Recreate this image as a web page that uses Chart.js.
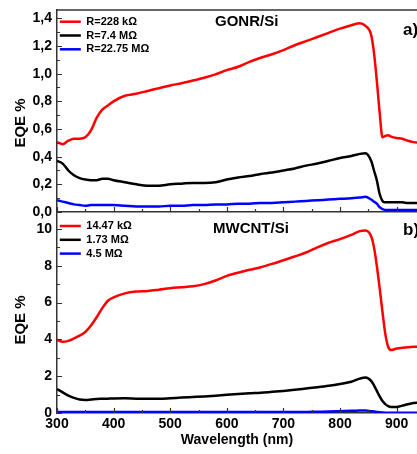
<!DOCTYPE html>
<html>
<head>
<meta charset="utf-8">
<script src="https://cdn.jsdelivr.net/npm/chart.js@4.4.0/dist/chart.umd.min.js"></script>
<style>
  html, body { margin: 0; padding: 0; background: #fff; }
  #wrap { position: relative; width: 417px; height: 454px; overflow: hidden; background: #fff; }
  canvas { position: absolute; left: 0; }
  #chartA { top: 0; z-index: 2; }
  #chartB { top: 212px; z-index: 1; }
</style>
</head>
<body>
<div id="wrap">
  <canvas id="chartA" width="417" height="224"></canvas>
  <canvas id="chartB" width="417" height="242"></canvas>
</div>
<script>
// 波长 (nm)，下降沿附近取点更密
const wavelength = [300, 310, 320, 330, 340, 350, 360, 370, 380, 390, 400, 420, 440, 460, 480, 500, 520, 540, 560, 580,
    600, 620, 640, 660, 680, 700, 720, 740, 760, 780, 800, 820, 835, 845, 855, 860, 865, 870, 875, 880,
    885, 890, 900, 910, 920, 930, 940];

// a) GONR/Si
const gonrLabels = ['R=228 kΩ', 'R=7.4 MΩ', 'R=22.75 MΩ'];
const gonr228k = [0.505, 0.49, 0.515, 0.53, 0.53, 0.54, 0.59, 0.68, 0.74, 0.77, 0.80, 0.84, 0.855, 0.875, 0.895, 0.915, 0.93, 0.95, 0.97, 0.995,
    1.025, 1.05, 1.085, 1.115, 1.14, 1.17, 1.205, 1.235, 1.265, 1.295, 1.325, 1.35, 1.365, 1.345, 1.28, 1.15, 0.95, 0.72, 0.54, 0.55,
    0.555, 0.545, 0.535, 0.53, 0.515, 0.505, 0.50];
const gonr7M = [0.37, 0.35, 0.30, 0.265, 0.245, 0.235, 0.23, 0.23, 0.24, 0.24, 0.23, 0.215, 0.20, 0.19, 0.19, 0.20, 0.205, 0.21, 0.21, 0.215,
    0.235, 0.25, 0.26, 0.275, 0.285, 0.30, 0.315, 0.335, 0.35, 0.37, 0.39, 0.405, 0.42, 0.425, 0.37, 0.30, 0.23, 0.13, 0.08, 0.07,
    0.07, 0.07, 0.07, 0.07, 0.065, 0.065, 0.065];
const gonr22M = [0.085, 0.075, 0.065, 0.055, 0.05, 0.045, 0.05, 0.05, 0.05, 0.05, 0.05, 0.045, 0.04, 0.04, 0.04, 0.045, 0.045, 0.05, 0.05, 0.055,
    0.055, 0.06, 0.06, 0.065, 0.065, 0.07, 0.075, 0.08, 0.085, 0.09, 0.095, 0.10, 0.105, 0.11, 0.09, 0.075, 0.06, 0.035, 0.02, 0.015,
    0.015, 0.015, 0.015, 0.015, 0.015, 0.015, 0.015];

// b) MWCNT/Si
const mwcntLabels = ['14.47 kΩ', '1.73 MΩ', '4.5 MΩ'];
const mwcnt14k = [3.97, 3.87, 3.92, 4.05, 4.2, 4.4, 4.75, 5.2, 5.7, 6.1, 6.28, 6.5, 6.6, 6.63, 6.7, 6.78, 6.83, 6.88, 7.0, 7.2,
    7.45, 7.62, 7.78, 7.92, 8.1, 8.3, 8.5, 8.72, 9.0, 9.25, 9.45, 9.68, 9.88, 9.92, 9.6, 9.0, 8.0, 6.8, 5.5, 4.3,
    3.6, 3.42, 3.5, 3.55, 3.57, 3.6, 3.6];
const mwcnt1M = [1.30, 1.12, 0.95, 0.82, 0.73, 0.71, 0.73, 0.76, 0.77, 0.78, 0.79, 0.80, 0.78, 0.77, 0.77, 0.80, 0.84, 0.87, 0.90, 0.94,
    0.99, 1.03, 1.07, 1.10, 1.15, 1.20, 1.26, 1.33, 1.40, 1.48, 1.58, 1.70, 1.87, 1.93, 1.75, 1.50, 1.20, 0.90, 0.65, 0.48,
    0.38, 0.33, 0.33, 0.40, 0.48, 0.54, 0.56];
const mwcnt4M = [0.05, 0.05, 0.05, 0.05, 0.05, 0.05, 0.05, 0.05, 0.05, 0.05, 0.05, 0.05, 0.05, 0.05, 0.05, 0.05, 0.05, 0.05, 0.05, 0.05,
    0.05, 0.05, 0.05, 0.05, 0.05, 0.05, 0.055, 0.06, 0.07, 0.08, 0.10, 0.12, 0.13, 0.14, 0.10, 0.08, 0.06, 0.04, 0.03, 0.02,
    0.02, 0.02, 0.02, 0.02, 0.02, 0.02, 0.02];

// 刻度
const xTickValues = [300, 400, 500, 600, 700, 800, 900];
const gonrYTicks = [0, 0.2, 0.4, 0.6, 0.8, 1.0, 1.2, 1.4];
const mwcntYTicks = [0, 2, 4, 6, 8, 10];

const FONT = '"Liberation Sans", Arial, sans-serif';
const AXIS = '#333';
const X_MIN = 300, X_MAX = 936;

const series = (values, label, color) => ({
    label: label,
    data: wavelength.map((w, i) => ({ x: w, y: values[i] })),
    borderColor: color,
    backgroundColor: color,
    borderWidth: 2.5,
    pointRadius: 0,
    cubicInterpolationMode: 'monotone',
    fill: false
});

const mids = arr => arr.slice(0, -1).map((v, i) => (v + arr[i + 1]) / 2).concat([arr[arr.length - 1] + (arr[1] - arr[0]) / 2]);

// 向内的主/次刻度 + 顶部边框
function innerTicks(yTicks, drawTop) {
    return {
        id: 'innerTicks',
        afterDatasetsDraw(chart) {
            const { ctx, chartArea: a, scales: { x, y } } = chart;
            ctx.save();
            ctx.strokeStyle = AXIS;
            ctx.lineWidth = 1.2;
            ctx.beginPath();
            const xs = xTickValues.concat(mids(xTickValues));
            xs.forEach((v, i) => {
                if (v < X_MIN || v > X_MAX) return;
                const px = Math.round(x.getPixelForValue(v)) + 0.5;
                const len = i < xTickValues.length ? 5 : 3;
                ctx.moveTo(px, a.bottom);
                ctx.lineTo(px, a.bottom - len);
            });
            const ys = yTicks.concat(mids(yTicks));
            ys.forEach((v, i) => {
                if (v < y.min || v > y.max) return;
                const py = Math.round(y.getPixelForValue(v)) + 0.5;
                const len = i < yTicks.length ? 5 : 3;
                ctx.moveTo(a.left, py);
                ctx.lineTo(a.left + len, py);
            });
            ctx.stroke();
            if (drawTop) {
                ctx.lineWidth = 1.5;
                ctx.beginPath();
                ctx.moveTo(a.left, a.top);
                ctx.lineTo(a.right, a.top);
                ctx.stroke();
            }
            ctx.restore();
        }
    };
}

function panelText(items) {
    return {
        id: 'panelText',
        afterDraw(chart) {
            const ctx = chart.ctx;
            items.forEach(t => {
                ctx.save();
                ctx.font = `bold ${t.size}px ${FONT}`;
                ctx.fillStyle = '#000';
                ctx.textAlign = t.align || 'left';
                ctx.textBaseline = 'middle';
                ctx.translate(t.x, t.y);
                if (t.rotate) ctx.rotate(t.rotate);
                ctx.fillText(t.text, 0, 0);
                ctx.restore();
            });
        }
    };
}

function panelOptions(p) {
    const tickFont = { family: FONT, size: 14, weight: 'bold' };
    return {
        responsive: false,
        animation: false,
        layout: { padding: { top: p.padTop, left: 0, right: 0, bottom: 0 } },
        plugins: {
            legend: {
                position: 'chartArea',
                align: 'start',
                // 空标题只用来把图例往下推
                title: { display: true, text: ' ', font: { size: 1 }, padding: { top: 0, bottom: p.legendGap } },
                labels: {
                    usePointStyle: true,
                    pointStyle: 'line',
                    pointStyleWidth: 21,
                    padding: 2.8,
                    color: '#000',
                    font: { family: FONT, size: 11, weight: 'bold' }
                }
            },
            tooltip: { enabled: false }
        },
        scales: {
            x: {
                type: 'linear',
                min: X_MIN,
                max: X_MAX,
                border: { display: true, color: AXIS, width: 1.5 },
                grid: { display: false, drawTicks: false },
                ticks: { display: p.showX, color: '#000', font: tickFont, padding: 3 },
                title: {
                    display: p.showX,
                    text: 'Wavelength (nm)',
                    color: '#000',
                    font: { family: FONT, size: 14, weight: 'bold' },
                    padding: { top: 0, bottom: 5 }
                },
                afterBuildTicks: s => { s.ticks = xTickValues.map(v => ({ value: v })); },
                afterFit: s => { s.height = p.xHeight; s.paddingLeft = 0; s.paddingRight = 0; }
            },
            y: {
                type: 'linear',
                min: 0,
                max: p.yMax,
                border: { display: true, color: AXIS, width: 1.5 },
                grid: { display: false, drawTicks: false },
                ticks: { color: '#000', font: tickFont, padding: 5, callback: p.fmt },
                afterBuildTicks: s => { s.ticks = p.yTicks.map(v => ({ value: v })); },
                afterFit: s => { s.width = 57; s.paddingTop = 0; s.paddingBottom = 0; }
            }
        }
    };
}

new Chart(document.getElementById('chartA'), {
    type: 'line',
    data: {
        datasets: [
            series(gonr228k, gonrLabels[0], '#ff0000'),
            series(gonr7M, gonrLabels[1], '#000000'),
            series(gonr22M, gonrLabels[2], '#0000ff')
        ]
    },
    options: panelOptions({
        padTop: 10, xHeight: 12, showX: false, yMax: 1.46, yTicks: gonrYTicks, legendGap: 12.2,
        fmt: v => v.toFixed(1).replace('.', ',')
    }),
    plugins: [
        innerTicks(gonrYTicks, true),
        panelText([
            { text: 'GONR/Si', x: 215, y: 22, size: 15 },
            { text: 'a)', x: 403, y: 30, size: 17 },
            { text: 'EQE %', x: 21, y: 123, size: 15, align: 'center', rotate: -Math.PI / 2 }
        ])
    ]
});

new Chart(document.getElementById('chartB'), {
    type: 'line',
    data: {
        datasets: [
            series(mwcnt14k, mwcntLabels[0], '#ff0000'),
            series(mwcnt1M, mwcntLabels[1], '#000000'),
            series(mwcnt4M, mwcntLabels[2], '#0000ff')
        ]
    },
    options: panelOptions({
        padTop: 0, xHeight: 41, showX: true, yMax: 10.92, yTicks: mwcntYTicks, legendGap: 4.5,
        fmt: v => String(v)
    }),
    plugins: [
        innerTicks(mwcntYTicks, false),
        panelText([
            { text: 'MWCNT/Si', x: 213, y: 17, size: 15 },
            { text: 'b)', x: 403, y: 18, size: 17 },
            { text: 'EQE %', x: 21, y: 108, size: 15, align: 'center', rotate: -Math.PI / 2 }
        ])
    ]
});
</script>
</body>
</html>
